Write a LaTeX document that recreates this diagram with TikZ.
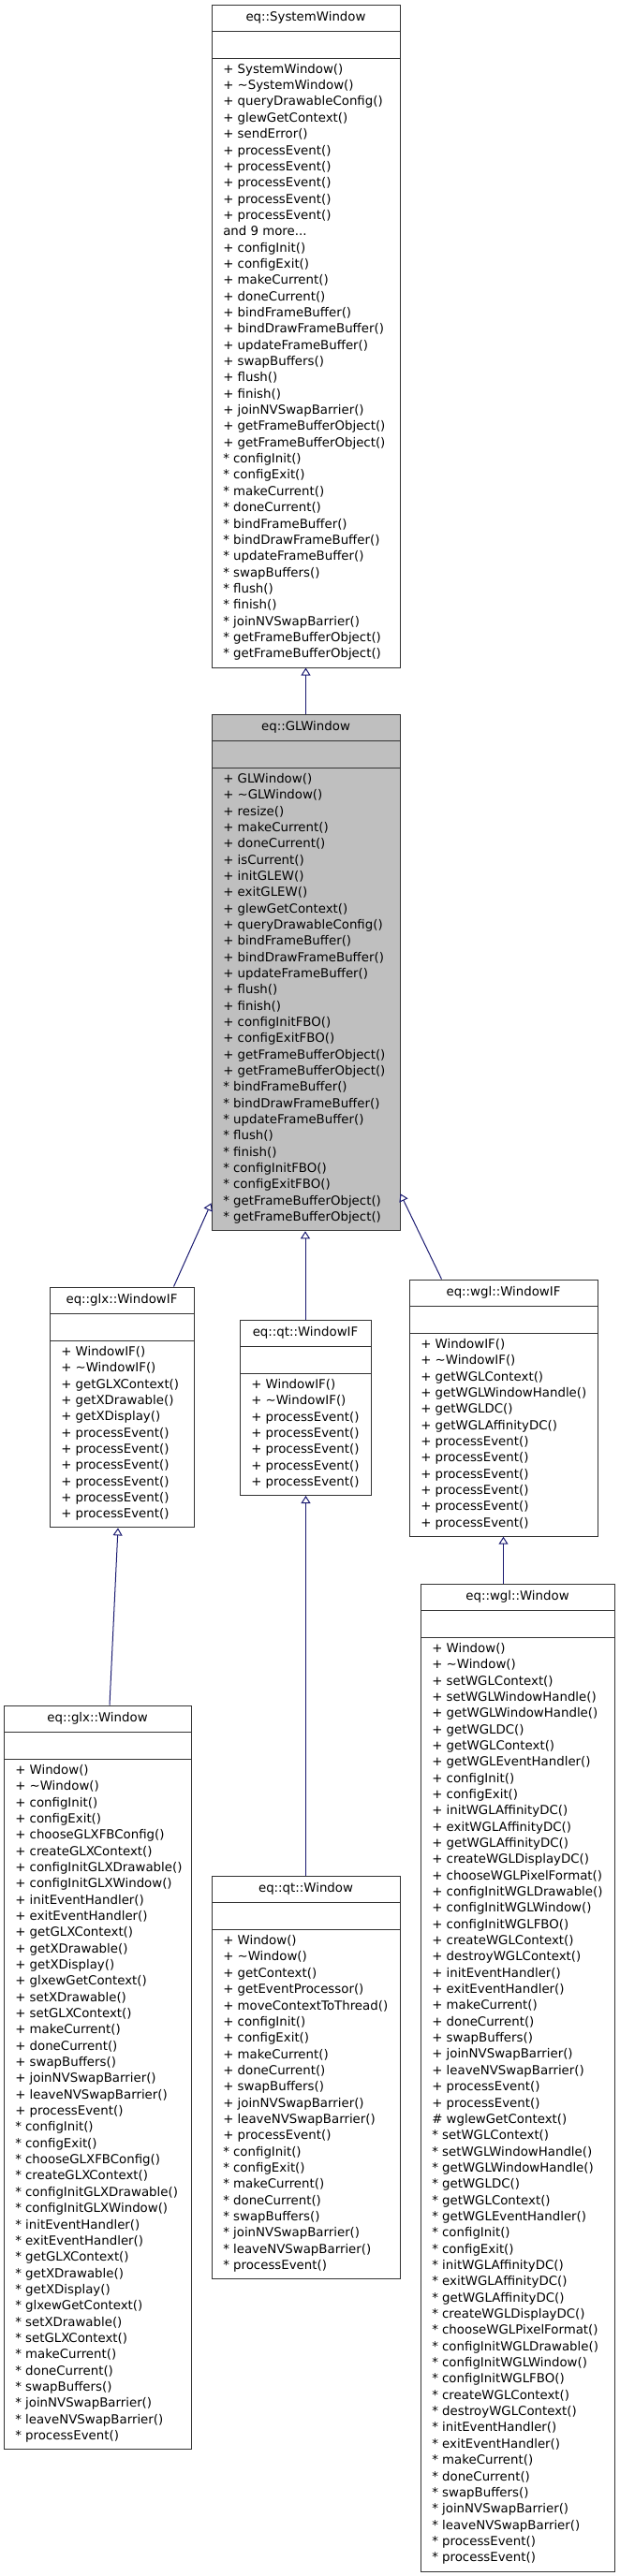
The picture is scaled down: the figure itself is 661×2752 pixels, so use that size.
\documentclass[tikz,border=0pt]{standalone}
\usepackage{fontspec}
\setmainfont{DejaVu Sans}
\usepackage{tikz}
\usetikzlibrary{fit,arrows.meta}

\definecolor{edgeblue}{RGB}{25,25,112}

\tikzset{
  clsbox/.style={draw=black!80, line width=0.75pt, inner sep=0pt},
  clsline/.style={draw=black!80, line width=0.75pt},
  clstitle/.style={anchor=base, inner sep=0pt},
  clsmembers/.style={anchor=base west, inner sep=0pt},
  inh/.style={draw=edgeblue, line width=0.75pt, -{Triangle[open, length=6pt, width=7.5pt]}},
}

% class box: [fill]{name}{left}{top}{right}{bottom}{title}{members}
\newcommand{\classbox}[8][white]{%
  \node[clsbox, fill=#1, fit={(#3,#4) (#5,#6)}] (#2) {};
  \draw[clsline] (#3,#4+28) -- (#5,#4+28);
  \draw[clsline] (#3,#4+57) -- (#5,#4+57);
  \node[clstitle] (#2-title) at ({(#3+#5)/2},#4+17) {#7};
  \node[clsmembers] (#2-members) at (#3+12,#4+73.3)
    {\begin{tabular}[t]{@{}l@{}}#8\end{tabular}};
}

\begin{document}
\begin{tikzpicture}[x=0.75pt, y=-0.75pt, font=\fontsize{10pt}{13.01pt}\selectfont]
  \useasboundingbox (0,0) rectangle (661,2752);

  % eq::SystemWindow
  \classbox{sysw}{226}{5}{427}{713}{eq::SystemWindow}{%
    + SystemWindow()\\ + \textasciitilde SystemWindow()\\ + queryDrawableConfig()\\
    + glewGetContext()\\ + sendError()\\ + processEvent()\\ + processEvent()\\
    + processEvent()\\ + processEvent()\\ + processEvent()\\ and 9 more...\\
    + configInit()\\ + configExit()\\ + makeCurrent()\\ + doneCurrent()\\
    + bindFrameBuffer()\\ + bindDrawFrameBuffer()\\ + updateFrameBuffer()\\
    + swapBuffers()\\ + flush()\\ + finish()\\ + joinNVSwapBarrier()\\
    + getFrameBufferObject()\\ + getFrameBufferObject()\\
    {*} configInit()\\ {*} configExit()\\ {*} makeCurrent()\\ {*} doneCurrent()\\
    {*} bindFrameBuffer()\\ {*} bindDrawFrameBuffer()\\ {*} updateFrameBuffer()\\
    {*} swapBuffers()\\ {*} flush()\\ {*} finish()\\ {*} joinNVSwapBarrier()\\
    {*} getFrameBufferObject()\\ {*} getFrameBufferObject()}

  % eq::GLWindow
  \classbox[black!25]{glw}{226}{763}{427}{1314.8}{eq::GLWindow}{%
    + GLWindow()\\ + \textasciitilde GLWindow()\\ + resize()\\ + makeCurrent()\\
    + doneCurrent()\\ + isCurrent()\\ + initGLEW()\\ + exitGLEW()\\
    + glewGetContext()\\ + queryDrawableConfig()\\ + bindFrameBuffer()\\
    + bindDrawFrameBuffer()\\ + updateFrameBuffer()\\ + flush()\\ + finish()\\
    + configInitFBO()\\ + configExitFBO()\\ + getFrameBufferObject()\\
    + getFrameBufferObject()\\
    {*} bindFrameBuffer()\\ {*} bindDrawFrameBuffer()\\ {*} updateFrameBuffer()\\
    {*} flush()\\ {*} finish()\\ {*} configInitFBO()\\ {*} configExitFBO()\\
    {*} getFrameBufferObject()\\ {*} getFrameBufferObject()}

  % eq::glx::WindowIF
  \classbox{glxif}{53}{1375}{207}{1631.9}{eq::glx::WindowIF}{%
    + WindowIF()\\ + \textasciitilde WindowIF()\\ + getGLXContext()\\
    + getXDrawable()\\ + getXDisplay()\\ + processEvent()\\ + processEvent()\\
    + processEvent()\\ + processEvent()\\ + processEvent()\\ + processEvent()}

  % eq::qt::WindowIF
  \classbox{qtif}{256}{1410}{396}{1597.5}{eq::qt::WindowIF}{%
    + WindowIF()\\ + \textasciitilde WindowIF()\\ + processEvent()\\
    + processEvent()\\ + processEvent()\\ + processEvent()\\ + processEvent()}

  % eq::wgl::WindowIF
  \classbox{wglif}{437}{1367}{638}{1641.2}{eq::wgl::WindowIF}{%
    + WindowIF()\\ + \textasciitilde WindowIF()\\ + getWGLContext()\\
    + getWGLWindowHandle()\\ + getWGLDC()\\ + getWGLAffinityDC()\\
    + processEvent()\\ + processEvent()\\ + processEvent()\\
    + processEvent()\\ + processEvent()\\ + processEvent()}

  % eq::glx::Window
  \classbox{glxw}{4}{1822}{204}{2616.7}{eq::glx::Window}{%
    + Window()\\ + \textasciitilde Window()\\ + configInit()\\ + configExit()\\
    + chooseGLXFBConfig()\\ + createGLXContext()\\ + configInitGLXDrawable()\\
    + configInitGLXWindow()\\ + initEventHandler()\\ + exitEventHandler()\\
    + getGLXContext()\\ + getXDrawable()\\ + getXDisplay()\\ + glxewGetContext()\\
    + setXDrawable()\\ + setGLXContext()\\ + makeCurrent()\\ + doneCurrent()\\
    + swapBuffers()\\ + joinNVSwapBarrier()\\ + leaveNVSwapBarrier()\\
    + processEvent()\\
    {*} configInit()\\ {*} configExit()\\ {*} chooseGLXFBConfig()\\
    {*} createGLXContext()\\ {*} configInitGLXDrawable()\\ {*} configInitGLXWindow()\\
    {*} initEventHandler()\\ {*} exitEventHandler()\\ {*} getGLXContext()\\
    {*} getXDrawable()\\ {*} getXDisplay()\\ {*} glxewGetContext()\\
    {*} setXDrawable()\\ {*} setGLXContext()\\ {*} makeCurrent()\\
    {*} doneCurrent()\\ {*} swapBuffers()\\ {*} joinNVSwapBarrier()\\
    {*} leaveNVSwapBarrier()\\ {*} processEvent()}

  % eq::qt::Window
  \classbox{qtw}{226}{2004.3}{427}{2434.7}{eq::qt::Window}{%
    + Window()\\ + \textasciitilde Window()\\ + getContext()\\
    + getEventProcessor()\\ + moveContextToThread()\\ + configInit()\\
    + configExit()\\ + makeCurrent()\\ + doneCurrent()\\ + swapBuffers()\\
    + joinNVSwapBarrier()\\ + leaveNVSwapBarrier()\\ + processEvent()\\
    {*} configInit()\\ {*} configExit()\\ {*} makeCurrent()\\ {*} doneCurrent()\\
    {*} swapBuffers()\\ {*} joinNVSwapBarrier()\\ {*} leaveNVSwapBarrier()\\
    {*} processEvent()}

  % eq::wgl::Window
  \classbox{wglw}{449}{1692}{656}{2747}{eq::wgl::Window}{%
    + Window()\\ + \textasciitilde Window()\\ + setWGLContext()\\
    + setWGLWindowHandle()\\ + getWGLWindowHandle()\\ + getWGLDC()\\
    + getWGLContext()\\ + getWGLEventHandler()\\ + configInit()\\ + configExit()\\
    + initWGLAffinityDC()\\ + exitWGLAffinityDC()\\ + getWGLAffinityDC()\\
    + createWGLDisplayDC()\\ + chooseWGLPixelFormat()\\ + configInitWGLDrawable()\\
    + configInitWGLWindow()\\ + configInitWGLFBO()\\ + createWGLContext()\\
    + destroyWGLContext()\\ + initEventHandler()\\ + exitEventHandler()\\
    + makeCurrent()\\ + doneCurrent()\\ + swapBuffers()\\ + joinNVSwapBarrier()\\
    + leaveNVSwapBarrier()\\ + processEvent()\\ + processEvent()\\
    \# wglewGetContext()\\
    {*} setWGLContext()\\ {*} setWGLWindowHandle()\\ {*} getWGLWindowHandle()\\
    {*} getWGLDC()\\ {*} getWGLContext()\\ {*} getWGLEventHandler()\\
    {*} configInit()\\ {*} configExit()\\ {*} initWGLAffinityDC()\\
    {*} exitWGLAffinityDC()\\ {*} getWGLAffinityDC()\\ {*} createWGLDisplayDC()\\
    {*} chooseWGLPixelFormat()\\ {*} configInitWGLDrawable()\\
    {*} configInitWGLWindow()\\ {*} configInitWGLFBO()\\ {*} createWGLContext()\\
    {*} destroyWGLContext()\\ {*} initEventHandler()\\ {*} exitEventHandler()\\
    {*} makeCurrent()\\ {*} doneCurrent()\\ {*} swapBuffers()\\
    {*} joinNVSwapBarrier()\\ {*} leaveNVSwapBarrier()\\ {*} processEvent()\\
    {*} processEvent()}

  % inheritance
  \draw[inh] (glw.north) -- (sysw.south);
  \draw[inh] ([xshift=-16.5pt]glxif.north east) -- ([yshift=22.5pt]glw.south west);
  \draw[inh] (qtif.north) -- (qtif.north |- glw.south);
  \draw[inh] ([xshift=26.25pt]wglif.north west) -- ([yshift=30pt]glw.south east);
  \draw[inh] ([xshift=9.75pt]glxw.north) -- ([xshift=-3pt]glxif.south);
  \draw[inh] (qtw.north) -- (qtw.north |- qtif.south);
  \draw[inh] (wglw.north -| wglif.south) -- (wglif.south);
\end{tikzpicture}
\end{document}
